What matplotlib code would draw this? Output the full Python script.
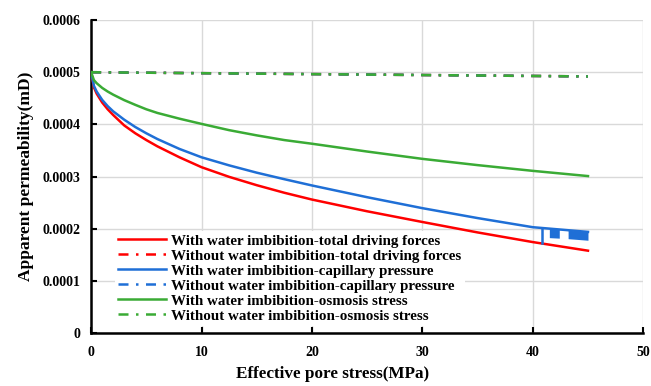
import matplotlib
matplotlib.use("Agg")
import matplotlib.pyplot as plt
import numpy as np

plt.rcParams['font.family'] = ['Liberation Serif', 'DejaVu Serif']
plt.rcParams['font.weight'] = 'bold'

# with water imbibition curves (MPa, mD)
x_curve = [0, 0.25, 0.5, 1, 1.5, 2, 3, 4, 5, 6, 8, 10, 12.5, 15, 17.5, 20, 25, 30, 35, 40, 45]
total_with = [0.0005, 0.000471, 0.000459, 0.000442, 0.000429, 0.000418, 0.000398, 0.000383, 0.00037,
              0.000358, 0.000337, 0.000318, 0.0002995, 0.0002835, 0.000269, 0.000256, 0.0002335,
              0.000213, 0.000193, 0.0001745, 0.000158]
capillary_with = [0.0005, 0.000474, 0.000463, 0.000447, 0.000435, 0.000425, 0.000409, 0.000395, 0.000383,
                  0.000372, 0.000353, 0.000337, 0.0003215, 0.0003075, 0.000295, 0.000283, 0.0002605,
                  0.0002395, 0.0002205, 0.000203, 0.000194]
osmosis_with = [0.0005, 0.000485, 0.000479, 0.00047, 0.000463, 0.000457, 0.0004465, 0.0004375, 0.000429,
                0.000422, 0.000411, 0.000401, 0.000389, 0.000379, 0.00037, 0.000363, 0.000348,
                0.000334, 0.000322, 0.000311, 0.000301]

# without water imbibition (nearly flat)
x_without = [0, 45]
total_without = [0.0005, 0.000492]
capillary_without = [0.0005, 0.000492]
osmosis_without = [0.0005, 0.000492]

# noisy tail of the capillary curve
spike_x = [40.8, 40.8]
spike_y = [0.000201, 0.000172]
band1_x = [41.5, 42.4]
band1_lo = [0.000183, 0.000182]
band2_x = [43.2, 45.0]
band2_lo = [0.000181, 0.000178]

red = '#ff0000'
blue = '#1f6fd6'
green = '#3aab35'
dd = (4, 3, 1, 3)

fig = plt.figure(figsize=(6.51, 3.86), dpi=100)
ax = fig.add_axes([0.14, 0.137, 0.848, 0.811])

ax.plot(x_curve, total_with, color=red, lw=1.8, label='With water imbibition-total driving forces', zorder=3)
ax.plot(x_without, total_without, color=red, lw=1.8, dashes=dd, label='Without water imbibition-total driving forces', zorder=3)
ax.plot(x_curve, capillary_with, color=blue, lw=1.8, label='With water imbibition-capillary pressure', zorder=3)
ax.plot(x_without, capillary_without, color=blue, lw=1.8, dashes=dd, label='Without water imbibition-capillary pressure', zorder=3)
ax.plot(x_curve, osmosis_with, color=green, lw=1.8, label='With water imbibition-osmosis stress', zorder=3)
ax.plot(x_without, osmosis_without, color=green, lw=1.8, dashes=dd, label='Without water imbibition-osmosis stress', zorder=3)

ax.plot(spike_x, spike_y, color=blue, lw=1.8, zorder=3)
for bx, blo in [(band1_x, band1_lo), (band2_x, band2_lo)]:
    bhi = np.interp(bx, x_curve, capillary_with)
    ax.fill_between(bx, blo, bhi, color=blue, lw=0, zorder=3)

ax.set_xlim(0, 50)
ax.set_ylim(0, 0.0006)
ax.set_xticks([0, 10, 20, 30, 40, 50])
ax.set_yticks([0, 0.0001, 0.0002, 0.0003, 0.0004, 0.0005, 0.0006])
ax.set_yticklabels(['0', '0.0001', '0.0002', '0.0003', '0.0004', '0.0005', '0.0006'])
ax.grid(True, color='#d9d9d9', lw=1)
ax.set_axisbelow(True)
for s in ['top', 'right']:
    ax.spines[s].set_visible(False)
for s in ['left', 'bottom']:
    ax.spines[s].set_linewidth(1.8)
ax.tick_params(direction='in', length=4, width=1.5, labelsize=10)
ax.tick_params(axis='x', pad=9)
ax.tick_params(axis='y', pad=8)

ax.set_xlabel('Effective pore stress(MPa)', fontsize=12.3, fontweight='bold')
ax.xaxis.set_label_coords(0.437, -0.105)
ax.set_ylabel('Apparent permeability(mD)', fontsize=12.5, fontweight='bold', labelpad=6)

ax.legend(loc='lower left', bbox_to_anchor=(0.03, 0.0), fontsize=10.8, frameon=True,
          edgecolor='none', framealpha=1, labelspacing=0.1, handlelength=3.2,
          handletextpad=0.35, borderpad=0.2)

fig.savefig('out.png', dpi=100)
